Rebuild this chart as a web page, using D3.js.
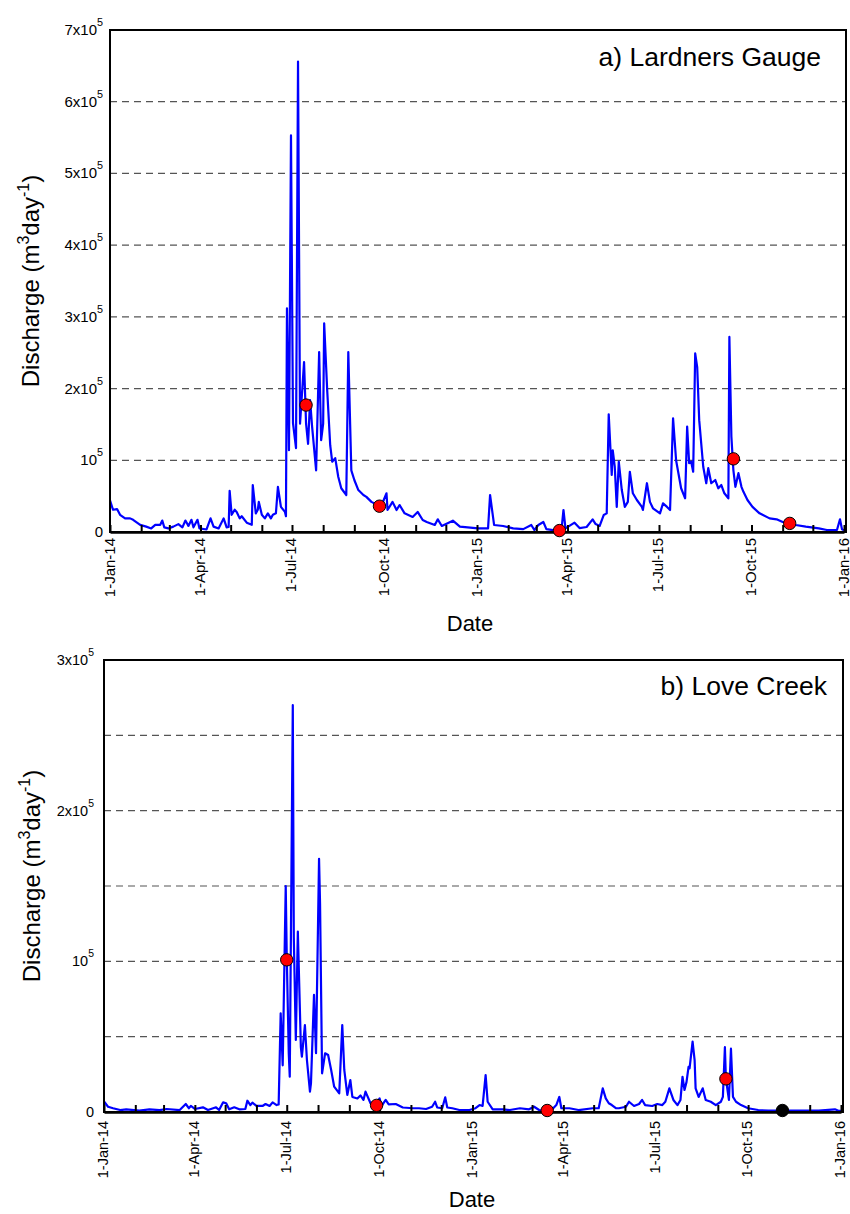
<!DOCTYPE html>
<html>
<head>
<meta charset="utf-8">
<script src="https://cdn.jsdelivr.net/npm/d3@7/dist/d3.min.js"></script>
<style>
  html, body { margin: 0; padding: 0; background: #fff; }
  svg { display: block; font-family: "Liberation Sans", Arial, Helvetica, sans-serif; }
</style>
</head>
<body>
<script>
// Daily discharge (m3/day), hydrograph vertices
const lardnersDates = [
  "2014-01-01","2014-01-04","2014-01-08","2014-01-11","2014-01-16","2014-01-21","2014-01-24","2014-01-31",
  "2014-02-06","2014-02-11","2014-02-15","2014-02-20","2014-02-22","2014-02-24","2014-02-28",
  "2014-03-05","2014-03-10","2014-03-14","2014-03-17","2014-03-20","2014-03-23","2014-03-25","2014-03-29","2014-03-31",
  "2014-04-07","2014-04-11","2014-04-14","2014-04-19","2014-04-24","2014-04-27","2014-04-29","2014-04-30",
  "2014-05-02","2014-05-05","2014-05-07","2014-05-10","2014-05-12","2014-05-17","2014-05-22","2014-05-23","2014-05-26","2014-05-28","2014-05-29",
  "2014-06-01","2014-06-04","2014-06-07","2014-06-10","2014-06-12","2014-06-15","2014-06-17","2014-06-20","2014-06-24","2014-06-25","2014-06-26","2014-06-28","2014-06-30",
  "2014-07-02","2014-07-05","2014-07-07","2014-07-09","2014-07-13","2014-07-15","2014-07-17","2014-07-19","2014-07-21","2014-07-25","2014-07-28","2014-07-30",
  "2014-08-01","2014-08-02","2014-08-05","2014-08-08","2014-08-10","2014-08-13","2014-08-16","2014-08-19","2014-08-24","2014-08-26","2014-08-29",
  "2014-09-01","2014-09-05","2014-09-10","2014-09-13","2014-09-18","2014-09-24","2014-09-27",
  "2014-10-03","2014-10-04","2014-10-09","2014-10-13","2014-10-16","2014-10-21","2014-10-29",
  "2014-11-03","2014-11-08","2014-11-12","2014-11-20","2014-11-23","2014-11-27",
  "2014-12-08","2014-12-15",
  "2015-01-02","2015-01-12","2015-01-14","2015-01-18","2015-01-27",
  "2015-02-06","2015-02-16","2015-02-24","2015-02-27",
  "2015-03-03","2015-03-08","2015-03-11","2015-03-21","2015-03-26","2015-03-28","2015-03-30",
  "2015-04-08","2015-04-13","2015-04-20","2015-04-26","2015-04-29",
  "2015-05-03","2015-05-07","2015-05-10","2015-05-12","2015-05-15","2015-05-16","2015-05-18","2015-05-20","2015-05-22","2015-05-25","2015-05-28","2015-05-31",
  "2015-06-02","2015-06-05","2015-06-09","2015-06-14","2015-06-15","2015-06-19","2015-06-22","2015-06-25",
  "2015-07-02","2015-07-05","2015-07-09","2015-07-12","2015-07-15","2015-07-18","2015-07-23","2015-07-27","2015-07-29","2015-07-31",
  "2015-08-02","2015-08-04","2015-08-05","2015-08-06","2015-08-08","2015-08-10","2015-08-14","2015-08-17","2015-08-19","2015-08-22","2015-08-26","2015-08-29",
  "2015-09-01","2015-09-04","2015-09-08","2015-09-09","2015-09-11","2015-09-13","2015-09-15","2015-09-18","2015-09-21","2015-09-23","2015-09-27",
  "2015-10-02","2015-10-09","2015-10-19","2015-10-26",
  "2015-11-01","2015-11-07","2015-11-14","2015-11-24",
  "2015-12-07","2015-12-15","2015-12-25","2015-12-28","2015-12-30","2016-01-01"
];
const lardnersFlow = [
  44000,31000,32000,24000,19000,19000,17000,10000,
  7500,5000,10000,10000,16000,6500,5000,
  7500,11000,6500,16000,8500,17000,6500,17000,5000,
  3500,19000,7500,5000,19000,6500,7000,57500,
  24000,31000,28000,19000,22000,13000,10000,65500,26000,31000,42000,
  24000,19000,26000,19000,24000,26000,63000,35000,28000,22000,312000,114000,553000,
  152000,117000,656000,151000,237000,151000,123000,184000,147000,86000,251000,128000,
  151000,291000,198000,121000,98000,103000,77000,61000,51600,251000,86000,
  72500,58500,51600,49000,42000,37600,33500,
  54000,30700,42000,30700,37600,26000,21000,
  28000,16700,14000,9800,17700,8400,
  15800,7400,
  5000,5000,51600,9800,8400,
  5000,4000,9800,2800,
  9800,14000,4000,1800,2800,30700,5000,
  13000,5500,7000,17700,11000,
  8400,23700,26000,164000,79500,114000,91000,35000,98000,58500,35000,42000,
  84000,54000,44600,35000,30700,68000,42000,33000,
  26000,40000,35000,30700,158500,100000,61000,47000,147000,96000,
  98000,84000,165000,249000,230000,156000,91000,68000,89000,68000,72500,61000,
  65500,54000,47000,272000,133000,86000,63000,82000,63000,56000,44600,
  35000,26000,19000,17700,
  14000,12000,9800,7400,
  5000,2800,2800,17700,3800,2500
];
const lardnersSampleDates = ["2014-07-15","2014-09-26","2015-03-24","2015-09-13","2015-11-08"];
const lardnersSampleFlow  = [177000, 36000, 2000, 102000, 12000];
const lardnersSampleGroup = ["sampled","sampled","sampled","sampled","sampled"];

const loveDates = [
  "2014-01-01","2014-01-05","2014-01-10","2014-01-17","2014-01-23","2014-02-05","2014-02-15","2014-02-25",
  "2014-03-04","2014-03-17","2014-03-23","2014-03-26","2014-03-28",
  "2014-04-01","2014-04-09","2014-04-14","2014-04-22","2014-04-25","2014-04-29",
  "2014-05-02","2014-05-05","2014-05-10","2014-05-15","2014-05-21","2014-05-23","2014-05-26","2014-05-28",
  "2014-06-01","2014-06-07","2014-06-10","2014-06-14","2014-06-17","2014-06-21","2014-06-23","2014-06-25","2014-06-27","2014-06-30",
  "2014-07-01","2014-07-03","2014-07-04","2014-07-07","2014-07-08","2014-07-10","2014-07-12","2014-07-15","2014-07-16","2014-07-19","2014-07-21","2014-07-24","2014-07-25","2014-07-28","2014-07-30",
  "2014-08-02","2014-08-03","2014-08-05","2014-08-08","2014-08-11","2014-08-14","2014-08-17","2014-08-22","2014-08-25","2014-08-27","2014-08-30",
  "2014-09-02","2014-09-04","2014-09-09","2014-09-12","2014-09-15","2014-09-17","2014-09-22","2014-09-27",
  "2014-10-01","2014-10-03","2014-10-07","2014-10-10","2014-10-17","2014-10-24",
  "2014-11-03","2014-11-09","2014-11-16","2014-11-22","2014-11-25","2014-11-27",
  "2014-12-02","2014-12-05","2014-12-07","2014-12-12","2014-12-19","2014-12-29",
  "2015-01-04","2015-01-08","2015-01-11","2015-01-14","2015-01-16","2015-01-21","2015-01-31",
  "2015-02-07","2015-02-17","2015-02-26",
  "2015-03-03","2015-03-08","2015-03-16","2015-03-21","2015-03-25","2015-03-28","2015-03-30",
  "2015-04-07","2015-04-16","2015-04-30",
  "2015-05-06","2015-05-10","2015-05-13","2015-05-16","2015-05-19","2015-05-23","2015-05-26",
  "2015-06-02","2015-06-05","2015-06-10","2015-06-15","2015-06-18","2015-06-21","2015-06-28",
  "2015-07-03","2015-07-08","2015-07-11","2015-07-15","2015-07-19","2015-07-23","2015-07-26","2015-07-28","2015-07-30",
  "2015-08-01","2015-08-03","2015-08-04","2015-08-07","2015-08-09","2015-08-10","2015-08-13","2015-08-17","2015-08-20","2015-08-25","2015-08-30",
  "2015-09-04","2015-09-06","2015-09-08","2015-09-09","2015-09-12","2015-09-14","2015-09-16","2015-09-19","2015-09-24",
  "2015-10-01","2015-10-11","2015-10-21",
  "2015-11-04","2015-11-17",
  "2015-12-10","2015-12-26","2015-12-30","2016-01-01"
];
const loveFlow = [
  7000,3500,2500,1300,1800,900,1800,1300,
  2000,1300,5300,2500,4000,
  2000,3100,1300,3100,1300,6400,
  5800,1800,3100,1800,2000,7500,4600,6200,
  4000,4000,5300,4000,6400,4600,5000,65500,31000,150000,
  104000,39000,23400,270000,116000,47800,119700,43000,36700,57700,34500,13500,19000,77700,39000,
  168000,138500,25700,39000,37800,27900,16800,12400,57700,27900,11300,
  21200,10000,9000,11000,8000,13500,5800,5000,
  9000,4000,8000,5000,5300,3000,
  2500,2500,2000,3500,6800,3000,
  2500,9700,3000,2500,1300,1300,
  2500,4600,4000,24500,6800,1800,1800,
  1300,2500,1800,
  3500,1300,900,1800,4600,10000,2500,
  2500,1300,2500,
  2500,15700,9000,5800,4600,2500,2500,
  3500,6800,4000,5300,8000,4600,4000,
  5300,4600,6800,15700,8000,4600,8000,23400,14600,
  20000,30000,29000,46700,34500,15700,10000,15700,8000,6800,4600,
  6800,10000,43000,22000,8000,42000,10000,6800,4600,
  2500,1300,900,
  900,900,
  900,1800,700,800
];
const loveSampleDates = ["2014-07-01","2014-09-28","2015-03-16","2015-09-09","2015-11-04"];
const loveSampleFlow  = [101000, 4400, 1000, 22000, 1000];
const loveSampleGroup = ["sampled","sampled","sampled","sampled","no flow"];

// Axis values
const lardnersYTicks = [0, 100000, 200000, 300000, 400000, 500000, 600000, 700000];
const lardnersGrid   = [100000, 200000, 300000, 400000, 500000, 600000];
const loveYTicks = [0, 100000, 200000, 300000];
const loveGrid   = [50000, 100000, 150000, 200000, 250000];
const quarterMonths = [0, 3, 6, 9]; // Jan, Apr, Jul, Oct carry labels
const xTitle = "Date";

const parse = d3.timeParse("%Y-%m-%d");
const fmtDate = d3.timeFormat("%-d-%b-%y");
const startDate = parse("2014-01-01");
const endDate = parse("2016-01-01");

const W = 850, H = 1214;
const svg = d3.select("body").append("svg").attr("width", W).attr("height", H);

const groupFill = d3.scaleOrdinal().domain(["sampled", "no flow"]).range(["#ff0000", "#000000"]);

function drawPanel(cfg) {
  const g = svg.append("g");
  const x = d3.scaleTime().domain([startDate, endDate]).range([cfg.left, cfg.xEnd]);
  const y = d3.scaleLinear().domain([0, cfg.yMax]).range([cfg.bottom, cfg.top]);

  // dashed horizontal grid
  g.append("g").selectAll("line").data(cfg.grid).join("line")
    .attr("x1", cfg.left).attr("x2", cfg.right)
    .attr("y1", d => y(d)).attr("y2", d => y(d))
    .attr("stroke", "#555").attr("stroke-width", 1.2)
    .attr("stroke-dasharray", "7,5");

  // hydrograph
  const series = cfg.dates.map((d, i) => ({ date: parse(d), q: cfg.flow[i] }));
  const line = d3.line().x(d => x(d.date)).y(d => y(d.q));
  g.append("path").datum(series)
    .attr("fill", "none").attr("stroke", "#0000ff")
    .attr("stroke-width", 2.2).attr("stroke-linejoin", "round")
    .attr("d", line);

  // frame
  g.append("rect")
    .attr("x", cfg.left).attr("y", cfg.top)
    .attr("width", cfg.right - cfg.left).attr("height", cfg.bottom - cfg.top)
    .attr("fill", "none").attr("stroke", "#000").attr("stroke-width", 2);

  // x axis: monthly inward ticks, quarterly labels
  const months = d3.timeMonth.range(startDate, d3.timeDay.offset(endDate, 1));
  const xAxis = d3.axisBottom(x).tickValues(months)
    .tickSizeInner(-7).tickSizeOuter(0).tickFormat("");
  const ax = g.append("g").attr("transform", `translate(0,${cfg.bottom})`).call(xAxis);
  ax.select(".domain").attr("stroke", "#000").attr("stroke-width", 2.5);
  ax.selectAll(".tick line").attr("stroke", "#000").attr("stroke-width", 2);

  const labelled = months.filter(m => quarterMonths.includes(m.getMonth()));
  g.append("g").selectAll("text").data(labelled).join("text")
    .attr("transform", d => `translate(${x(d)},${cfg.bottom + cfg.xLabelGap}) rotate(-90)`)
    .attr("text-anchor", "end").attr("dy", "0.3em")
    .attr("font-size", cfg.tickFont).attr("fill", "#000")
    .text(d => fmtDate(d));

  // y tick labels with powers of ten
  const yl = g.append("g").selectAll("text").data(cfg.yTicks).join("text")
    .attr("x", cfg.left - cfg.yLabelGap).attr("y", d => y(d) + 5)
    .attr("text-anchor", "end").attr("font-size", cfg.tickFont).attr("fill", "#000");
  yl.each(function (d) {
    const t = d3.select(this);
    if (d === 0) { t.text("0"); return; }
    const m = d / 100000;
    t.append("tspan").text(m === 1 ? "10" : `${m}x10`);
    t.append("tspan").attr("dy", -9).attr("font-size", cfg.tickFont * 0.72).text("5");
  });

  // samples
  const samples = cfg.sDates.map((d, i) => ({ date: parse(d), q: cfg.sFlow[i], grp: cfg.sGroup[i] }));
  g.append("g").selectAll("circle").data(samples).join("circle")
    .attr("cx", d => x(d.date)).attr("cy", d => y(d.q)).attr("r", 6.2)
    .attr("fill", d => groupFill(d.grp)).attr("stroke", "#000").attr("stroke-width", 1);

  // panel title
  g.append("text").attr("x", cfg.titleX).attr("y", cfg.titleY)
    .attr("text-anchor", "end").attr("font-size", 26.5).attr("fill", "#000")
    .text(cfg.title);

  // axis titles
  g.append("text").attr("x", cfg.xTitleX).attr("y", cfg.xTitleY)
    .attr("text-anchor", "middle").attr("font-size", 22).attr("fill", "#000")
    .text(xTitle);

  const yt = g.append("text")
    .attr("transform", `translate(${cfg.yTitleX},${cfg.yTitleY}) rotate(-90)`)
    .attr("text-anchor", "middle").attr("font-size", 24).attr("fill", "#000");
  yt.append("tspan").text("Discharge (m");
  yt.append("tspan").attr("dy", -10).attr("font-size", 16).text("3");
  yt.append("tspan").attr("dy", 10).text("day");
  yt.append("tspan").attr("dy", -10).attr("font-size", 16).text("-1");
  yt.append("tspan").attr("dy", 10).text(")");
}

drawPanel({
  left: 110, right: 846, xEnd: 844, top: 30, bottom: 532, yMax: 700000,
  grid: lardnersGrid, yTicks: lardnersYTicks,
  dates: lardnersDates, flow: lardnersFlow,
  sDates: lardnersSampleDates, sFlow: lardnersSampleFlow, sGroup: lardnersSampleGroup,
  tickFont: 15, xLabelGap: 6, yLabelGap: 7,
  title: "a) Lardners Gauge", titleX: 821, titleY: 66,
  xTitleX: 470, xTitleY: 631, yTitleX: 39, yTitleY: 281
});

drawPanel({
  left: 104, right: 843, xEnd: 841, top: 660, bottom: 1112, yMax: 300000,
  grid: loveGrid, yTicks: loveYTicks,
  dates: loveDates, flow: loveFlow,
  sDates: loveSampleDates, sFlow: loveSampleFlow, sGroup: loveSampleGroup,
  tickFont: 14.5, xLabelGap: 9, yLabelGap: 10,
  title: "b) Love Creek", titleX: 827, titleY: 695,
  xTitleX: 472, xTitleY: 1207, yTitleX: 40, yTitleY: 876
});
</script>
</body>
</html>
